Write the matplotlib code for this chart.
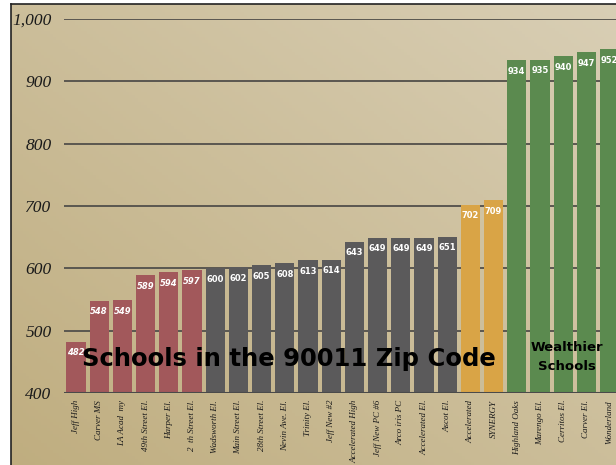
import numpy as np
import matplotlib.pyplot as plt

# ---- data ----
schools = ["Jeff High", "Carver MS", "LA Acad  my", "49th Street El.", "Harper El.",
           "2  th Street El.", "Wadsworth El.", "Main Street El.", "28th Street El.",
           "Nevin Ave. El.", "Trinity El.", "Jeff New #2", "Accelerated High",
           "Jeff New PC #6", "Arco iris PC", "Accelerated El.", "Ascot El.",
           "Accelerated", "SYNERGY", "Highland Oaks", "Marengo El.", "Cerritos El.",
           "Carver El.", "Wonderland"]
scores = [482, 548, 549, 589, 594, 597, 600, 602, 605, 608, 613, 614, 643,
          649, 649, 649, 651, 702, 709, 934, 935, 940, 947, 952]
groups = ["low"] * 6 + ["mid"] * 11 + ["charter"] * 2 + ["rich"] * 5
yticks = [400, 500, 600, 700, 800, 900, 1000]
ytick_labels = ["400", "500", "600", "700", "800", "900", "1,000"]

group_colors = {"low": "#a2585b", "mid": "#5b5a5b", "charter": "#d9a446", "rich": "#5b8a4f"}

W, H = 616, 465
fig = plt.figure(figsize=(W / 100, H / 100), dpi=100)
fig.patch.set_facecolor("white")

# ---- parchment background ----
bg = fig.add_axes([11 / W, 0, 1 - 11 / W, 1 - 4 / H])
gx, gy = np.meshgrid(np.linspace(0, 1, 200), np.linspace(0, 1, 150))
t = np.clip(0.5 * gx + 0.5 * gy, 0, 1)
dark = np.array([0.75, 0.68, 0.50])
light = np.array([0.85, 0.81, 0.71])
img = dark[None, None, :] * (1 - t[..., None]) + light[None, None, :] * t[..., None]
bg.imshow(img, origin="lower", aspect="auto", extent=[0, 1, 0, 1])
bg.set_xlim(0, 1)
bg.set_ylim(0, 1)
bg.set_xticks([])
bg.set_yticks([])
for s in ["left", "top"]:
    bg.spines[s].set_color("#222222")
    bg.spines[s].set_linewidth(1.2)
for s in ["right", "bottom"]:
    bg.spines[s].set_visible(False)

# ---- main chart ----
x0_px, step_px = 76, 23.2
left_px, top_px, bottom_px = 64, 19, 393
ax = fig.add_axes([left_px / W, 1 - bottom_px / H, (W - left_px) / W, (bottom_px - top_px) / H])
ax.patch.set_alpha(0)
xpos = np.arange(len(scores))
ax.set_xlim((left_px - x0_px) / step_px, (W - x0_px) / step_px)
ax.set_ylim(400, 1000)

for y in yticks[1:]:
    ax.axhline(y, color="#5a5750", lw=1.4, zorder=1)
ax.axhline(400, color="#4a4a4a", lw=2.2, zorder=3)

colors = [group_colors[g] for g in groups]
ax.bar(xpos, [s - 400 for s in scores], bottom=400, width=0.82, color=colors, zorder=2)

for xi, s, g in zip(xpos, scores, groups):
    ax.annotate(str(s), (xi, s), xytext=(0, -8), textcoords="offset points",
                ha="center", va="center", color="white", fontsize=6,
                fontweight="bold", style="italic" if g == "low" else "normal",
                family="DejaVu Sans", zorder=4, annotation_clip=False)

ax.set_yticks(yticks)
ax.set_yticklabels(ytick_labels, family="Liberation Serif", style="italic", fontsize=12.5,
                   color="#1a1a1a")
ax.set_xticks(xpos)
ax.set_xticklabels(schools, rotation=90, family="Liberation Serif", style="italic",
                   fontsize=6.5, color="#1a1a1a", va="top", ha="center")
ax.tick_params(axis="y", length=0, pad=9)
ax.tick_params(axis="x", length=0, pad=5)
for s in ax.spines.values():
    s.set_visible(False)

ax.text((82 - x0_px) / step_px, 455, "Schools in the 90011 Zip Code", ha="left", va="center",
        fontsize=17.5, fontweight="heavy", family="DejaVu Sans", color="black", zorder=5)
ax.text((567 - x0_px) / step_px, 458, "Wealthier\nSchools", ha="center", va="center",
        fontsize=9.5, fontweight="heavy", family="DejaVu Sans", color="black",
        linespacing=1.55, zorder=5)

fig.savefig("out.png", dpi=100)
